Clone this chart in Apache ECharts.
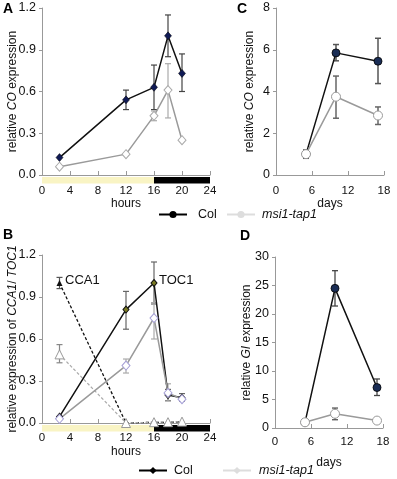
<!DOCTYPE html>
<html>
<head>
<meta charset="utf-8">
<script src="https://cdn.jsdelivr.net/npm/echarts@6/dist/echarts.min.js"></script>
<style>
html, body { margin: 0; padding: 0; background: #fff; }
#chart { width: 397px; height: 479px; }
</style>
</head>
<body>
<div id="chart"></div>
<script>
// A: CO, diurnal (hours)
const hoursA = [2.5, 12, 16, 18, 20]
const coColA = [0.125, 0.54, 0.63, 1.0, 0.73]
const coColALow = [null, 0.47, 0.47, 0.85, 0.6]
const coColAHigh = [null, 0.61, 0.79, 1.15, 0.87]
const coMsiA = [0.06, 0.15, 0.425, 0.61, 0.25]
const coMsiALow = [null, null, 0.39, 0.41, null]
const coMsiAHigh = [null, null, 0.46, 0.8, null]

// B: CCA1 / TOC1 (hours)
const hoursB = [2.5, 12, 16, 18, 20]
const cca1Col = [1.0, 0.0, 0.005, 0.005, 0.008]
const cca1ColLow = [0.96, null, null, null, null]
const cca1ColHigh = [1.04, null, null, null, null]
const cca1Msi = [0.49, 0.0, 0.006, 0.006, 0.01]
const cca1MsiLow = [0.43, null, null, null, null]
const cca1MsiHigh = [0.56, null, null, null, null]
const toc1Col = [0.045, 0.81, 1.0, 0.2, 0.18]
const toc1ColLow = [null, 0.67, 0.85, 0.16, 0.155]
const toc1ColHigh = [null, 0.94, 1.15, 0.24, 0.21]
const toc1Msi = [0.03, 0.41, 0.75, 0.215, 0.17]
const toc1MsiLow = [null, 0.357, 0.6, 0.157, null]
const toc1MsiHigh = [null, 0.457, 0.86, 0.28, null]

// C: CO, development (days)
const daysC = [5, 10, 17]
const coColC = [1.0, 5.85, 5.45]
const coColCLow = [0.8, 5.47, 4.38]
const coColCHigh = [1.2, 6.25, 6.55]
const coMsiC = [1.0, 3.75, 2.85]
const coMsiCLow = [null, 2.72, 2.42]
const coMsiCHigh = [null, 4.74, 3.26]

// D: GI, development (days)
const daysD = [5, 10, 17]
const giCol = [1.0, 24.5, 7.1]
const giColLow = [null, 21.4, 5.7]
const giColHigh = [null, 27.6, 8.6]
const giMsi = [1.0, 2.5, 1.3]
const giMsiLow = [null, 1.45, null]
const giMsiHigh = [null, 3.5, null]

// light / dark periods: [start, end, 0 = light, 1 = dark]
const dayNight = [[0, 16, 0], [16, 24, 1]]

const font = 'Liberation Sans, Arial, sans-serif'

function pairs (xs, ys) {
  return xs.map((x, i) => [x, ys[i]])
}

function errs (xs, lo, hi) {
  const out = []
  xs.forEach((x, i) => {
    if (lo[i] !== null) out.push([x, lo[i], hi[i]])
  })
  return out
}

function errorBar (color, width) {
  return function (params, api) {
    const x = api.value(0)
    const lo = api.coord([x, api.value(1)])
    const hi = api.coord([x, api.value(2)])
    const w = 3
    const style = { stroke: color, lineWidth: width }
    return {
      type: 'group',
      children: [
        { type: 'line', shape: { x1: hi[0], y1: hi[1], x2: lo[0], y2: lo[1] }, style },
        { type: 'line', shape: { x1: hi[0] - w, y1: hi[1], x2: hi[0] + w, y2: hi[1] }, style },
        { type: 'line', shape: { x1: lo[0] - w, y1: lo[1], x2: lo[0] + w, y2: lo[1] }, style }
      ]
    }
  }
}

function dayNightItem (params, api) {
  const a = api.coord([api.value(0), 0])
  const b = api.coord([api.value(1), 0])
  return {
    type: 'rect',
    shape: { x: a[0], y: a[1] + 2, width: b[0] - a[0], height: 6.5 },
    style: { fill: api.value(2) === 1 ? '#000' : '#f9f4c4' }
  }
}

function xAxis (grid, max, interval, name, nameGap, margin) {
  return {
    gridIndex: grid,
    type: 'value',
    min: 0,
    max: max,
    interval: interval,
    name: name,
    nameLocation: 'middle',
    nameGap: nameGap,
    nameMoveOverlap: false,
    nameTextStyle: { fontSize: 12, color: '#111', fontFamily: font },
    axisLine: { lineStyle: { color: '#999', width: 1 } },
    axisTick: { inside: true, length: 4, lineStyle: { color: '#999' } },
    axisLabel: { fontSize: 11.5, color: '#111', margin: margin, fontFamily: font },
    splitLine: { show: false }
  }
}

function yAxis (grid, max, interval, name, nameGap, digits) {
  return {
    gridIndex: grid,
    type: 'value',
    min: 0,
    max: max,
    interval: interval,
    name: name,
    nameLocation: 'middle',
    nameGap: nameGap,
    nameMoveOverlap: false,
    nameTextStyle: {
      fontSize: 12,
      color: '#111',
      fontFamily: font,
      rich: { i: { fontSize: 12, fontStyle: 'italic', color: '#111', fontFamily: font } }
    },
    axisLine: { show: true, lineStyle: { color: '#999', width: 1 } },
    axisTick: { show: true, length: 3, lineStyle: { color: '#999' } },
    axisLabel: {
      fontSize: 12.5,
      color: '#111',
      margin: 6,
      fontFamily: font,
      formatter: v => v.toFixed(digits)
    },
    splitLine: { show: false }
  }
}

function line (name, xi, data, opt) {
  return Object.assign({
    name: name,
    type: 'line',
    xAxisIndex: xi,
    yAxisIndex: xi,
    data: data,
    z: 3,
    animation: false
  }, opt)
}

function bars (xi, data, color, width) {
  return {
    type: 'custom',
    xAxisIndex: xi,
    yAxisIndex: xi,
    data: data,
    renderItem: errorBar(color, width),
    clip: false,
    z: 2,
    silent: true,
    animation: false
  }
}

const colLine = { color: '#111', width: 1.5 }
const msiLine = { color: '#9a9a9a', width: 1.5 }

const series = [
  // A
  bars(0, errs(hoursA, coColALow, coColAHigh), '#444', 1.2),
  bars(0, errs(hoursA, coMsiALow, coMsiAHigh), '#aaa', 1.2),
  line('aCol', 0, pairs(hoursA, coColA), {
    symbol: 'diamond', symbolSize: [7, 8], lineStyle: colLine,
    itemStyle: { color: '#101a55', borderColor: '#000', borderWidth: 0.5 }
  }),
  line('aMsi', 0, pairs(hoursA, coMsiA), {
    symbol: 'diamond', symbolSize: [8, 9], lineStyle: msiLine,
    itemStyle: { color: '#fff', borderColor: '#aaa', borderWidth: 1 }
  }),
  { type: 'custom', xAxisIndex: 0, yAxisIndex: 0, data: dayNight, renderItem: dayNightItem, clip: false, silent: true, animation: false },

  // C
  bars(1, errs(daysC, coColCLow, coColCHigh), '#555', 1.5),
  bars(1, errs(daysC, coMsiCLow, coMsiCHigh), '#666', 1.5),
  line('cCol', 1, pairs(daysC, coColC), {
    symbol: 'circle', symbolSize: 8, lineStyle: colLine,
    itemStyle: { color: '#1a2d55', borderColor: '#000', borderWidth: 0.8 }
  }),
  line('cMsi', 1, pairs(daysC, coMsiC), {
    symbol: 'circle', symbolSize: 9, lineStyle: msiLine,
    itemStyle: { color: '#fff', borderColor: '#999', borderWidth: 1 }
  }),

  // B
  bars(2, errs(hoursB, cca1ColLow, cca1ColHigh), '#555', 1.2),
  bars(2, errs(hoursB, cca1MsiLow, cca1MsiHigh), '#888', 1.2),
  bars(2, errs(hoursB, toc1ColLow, toc1ColHigh), '#666', 1.2),
  bars(2, errs(hoursB, toc1MsiLow, toc1MsiHigh), '#aaa', 1.2),
  line('cca1Col', 2, pairs(hoursB, cca1Col), {
    symbol: 'triangle', symbolSize: 6,
    lineStyle: { color: '#111', width: 1.3, type: [3, 2] },
    itemStyle: { color: '#111' }
  }),
  line('cca1Msi', 2, pairs(hoursB, cca1Msi), {
    symbol: 'triangle', symbolSize: 9,
    lineStyle: { color: '#aaa', width: 1.2, type: [3, 2] },
    itemStyle: { color: '#fff', borderColor: '#999', borderWidth: 1 }
  }),
  line('toc1Col', 2, pairs(hoursB, toc1Col), {
    symbol: 'diamond', symbolSize: [6, 7], lineStyle: colLine,
    itemStyle: { color: '#7a7a22', borderColor: '#111', borderWidth: 1 }
  }),
  line('toc1Msi', 2, pairs(hoursB, toc1Msi), {
    symbol: 'diamond', symbolSize: [8, 9], lineStyle: msiLine,
    itemStyle: { color: '#fff', borderColor: '#a59fd6', borderWidth: 1 }
  }),
  { type: 'custom', xAxisIndex: 2, yAxisIndex: 2, data: dayNight, renderItem: dayNightItem, clip: false, silent: true, animation: false },

  // D
  bars(3, errs(daysD, giColLow, giColHigh), '#444', 1.3),
  bars(3, errs(daysD, giMsiLow, giMsiHigh), '#555', 1.3),
  line('dCol', 3, pairs(daysD, giCol), {
    symbol: 'circle', symbolSize: 8, lineStyle: colLine,
    itemStyle: { color: '#1a2d55', borderColor: '#000', borderWidth: 0.8 }
  }),
  line('dMsi', 3, pairs(daysD, giMsi), {
    symbol: 'circle', symbolSize: 9, lineStyle: msiLine,
    itemStyle: { color: '#fff', borderColor: '#999', borderWidth: 1 }
  }),

  // legend-only entries
  line('legTopCol', 0, [], { symbol: 'circle', symbolSize: 7, lineStyle: { color: '#000', width: 1.5 }, itemStyle: { color: '#000' } }),
  line('legTopMsi', 0, [], { symbol: 'circle', symbolSize: 7, lineStyle: { color: '#ddd', width: 1.5 }, itemStyle: { color: '#ddd' } }),
  line('legBotCol', 0, [], { symbol: 'diamond', symbolSize: 8, lineStyle: { color: '#000', width: 1.5 }, itemStyle: { color: '#000' } }),
  line('legBotMsi', 0, [], { symbol: 'diamond', symbolSize: 8, lineStyle: { color: '#ddd', width: 1.5 }, itemStyle: { color: '#ddd' } })
]

const legendText = {
  legTopCol: 'Col',
  legTopMsi: '{i|msi1-tap1}',
  legBotCol: 'Col',
  legBotMsi: '{i|msi1-tap1}'
}

function legend (name, left, top, pad) {
  return {
    data: [name],
    left: left,
    top: top,
    padding: 0,
    itemWidth: 28,
    itemHeight: 9,
    selectedMode: false,
    formatter: n => legendText[n],
    textStyle: {
      fontSize: 12.5,
      color: '#111',
      fontFamily: font,
      padding: [0, 0, 0, pad],
      rich: { i: { fontSize: 12.5, fontStyle: 'italic', color: '#111', fontFamily: font } }
    }
  }
}

const chart = echarts.init(document.getElementById('chart'), null, { renderer: 'canvas' })
chart.setOption({
  animation: false,
  grid: [
    { left: 42, top: 8, width: 168, height: 167 },
    { left: 276, top: 8, width: 108, height: 167 },
    { left: 42, top: 255, width: 168, height: 168 },
    { left: 275, top: 257, width: 108, height: 171 }
  ],
  xAxis: [
    xAxis(0, 24, 4, 'hours', 23, 10),
    xAxis(1, 18, 6, 'days', 23, 10),
    xAxis(2, 24, 4, 'hours', 23, 9),
    xAxis(3, 18, 6, 'days', 29, 8)
  ],
  yAxis: [
    yAxis(0, 1.2, 0.3, 'relative {i|CO} expression', 23, 1),
    yAxis(1, 8, 2, 'relative {i|CO} expression', 20, 0),
    yAxis(2, 1.2, 0.3, 'relative expression of {i|CCA1}/ {i|TOC1}', 23, 1),
    yAxis(3, 30, 5, 'relative {i|GI} expression', 22, 0)
  ],
  legend: [
    legend('legTopCol', 158, 208, 6),
    legend('legTopMsi', 226, 208, 2),
    legend('legBotCol', 138, 464, 2),
    legend('legBotMsi', 222, 464, 3)
  ],
  graphic: [
    { type: 'text', left: 3, top: 2, style: { text: 'A', font: 'bold 14px ' + font, fill: '#000' } },
    { type: 'text', left: 237, top: 2, style: { text: 'C', font: 'bold 14px ' + font, fill: '#000' } },
    { type: 'text', left: 3, top: 228, style: { text: 'B', font: 'bold 14px ' + font, fill: '#000' } },
    { type: 'text', left: 240, top: 229, style: { text: 'D', font: 'bold 14px ' + font, fill: '#000' } },
    { type: 'text', left: 65, top: 274, style: { text: 'CCA1', font: '13px ' + font, fill: '#111' } },
    { type: 'text', left: 159, top: 274, style: { text: 'TOC1', font: '13px ' + font, fill: '#111' } }
  ],
  series: series
})
</script>
</body>
</html>
